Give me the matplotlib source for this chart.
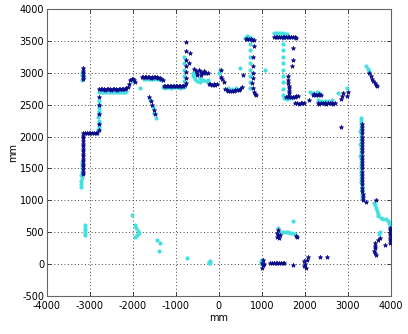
import matplotlib
matplotlib.use("Agg")
import matplotlib.pyplot as plt

# ---- data (mm) ----
navy_x = [-3170, -3160, -3160, -3150, -3160,
          -3150, -3160, -3150, -3170, -3150, -3160, -3170, -3150, -3160, -3170, -3160, -3170, -3160, -3170, -3170, -3160, -3170,
          -3110, -3070, -3030, -2990, -2950, -2910, -2870, -2830,
          -2790, -2790, -2790, -2790, -2790,
          -2780, -2745, -2710, -2675, -2640, -2605, -2570, -2535, -2500, -2465, -2430, -2395, -2360, -2325, -2290, -2255, -2220, -2185, -2150, -2120,
          -2090, -2060, -2030, -2000, -1970, -1940,
          -1790, -1755, -1720, -1685, -1650, -1615, -1580, -1545, -1510, -1475, -1440, -1405, -1370, -1335, -1300,
          -1620, -1590, -1550, -1510, -1480,
          -1280, -1245, -1210, -1175, -1140, -1105, -1070, -1035, -1000, -965, -930, -895, -860, -825, -790,
          -770, -770, -770, -770, -770, -770, -770, -680, -690,
          -580, -540, -500, -460, -420, -380, -340, -300, -260, -500, -420,
          -240, -200, -160, -120, -80, -40,
          40, 60, 80, 110,
          150, 180, 220, 260, 300, 340, 380, 420, 460, 500, 540,
          560,
          620, 660, 700, 740, 780, 820,
          810, 800, 790, 790, 790, 780, 790, 810, 840, 870,
          1280, 1320, 1360, 1400, 1440, 1480, 1520, 1560, 1600, 1640, 1680, 1720, 1760, 1800,
          1720, 1730, 1710,
          1600, 1610, 1610, 1620, 1630, 1620, 1630,
          1560, 1600, 1640, 1680, 1720, 1760, 1800, 1840,
          1780, 1820, 1860, 1900, 1940, 1980, 2100,
          2180, 2220, 2260, 2300, 2340, 2380,
          2300, 2340, 2380, 2420, 2460, 2500, 2540, 2580, 2620, 2660, 2700,
          2840, 2860, 2880, 3000, 2990,
          2840,
          3500, 3530, 3560, 3590, 3620, 3650, 3670,
          3330, 3320, 3330, 3340, 3330, 3320, 3330, 3340, 3330, 3320, 3330, 3340, 3330, 3320, 3330, 3340, 3330, 3330, 3340, 3330, 3340, 3340, 3350, 3350, 3360,
          3420, 3650,
          3980, 3980, 3980, 3970, 3980, 3980, 3970, 3860,
          3740, 3700, 3640, 3620, 3640, 3610, 3630, 3650,
          1370, 1350, 1380, 1360, 1390, 1410, 1820, 1790,
          1020, 1000, 1030, 1010, 1050, 1200, 1240, 1280, 1320, 1360, 1400, 1440, 1480, 1520, 1720,
          1990, 2010, 1980, 2020, 2050, 2070, 2350, 2510]
navy_y = [3070, 3030, 2990, 2950, 2910,
          2050, 2010, 1970, 1930, 1890, 1850, 1810, 1770, 1730, 1690, 1650, 1610, 1570, 1530, 1490, 1450, 1410,
          2060, 2055, 2050, 2055, 2050, 2055, 2050, 2060,
          2100, 2200, 2350, 2500, 2620,
          2750, 2745, 2740, 2740, 2735, 2740, 2745, 2740, 2735, 2740, 2745, 2740, 2735, 2740, 2745, 2750, 2750, 2745, 2760, 2780,
          2830, 2880, 2910, 2900, 2880, 2860,
          2930, 2935, 2930, 2930, 2935, 2930, 2925, 2930, 2930, 2935, 2930, 2925, 2920, 2900, 2880,
          2620, 2560, 2490, 2420, 2350,
          2790, 2785, 2790, 2790, 2785, 2790, 2790, 2795, 2790, 2785, 2790, 2790, 2795, 2800, 2810,
          2840, 2915, 3010, 3100, 3200, 3340, 3480, 3310, 3150,
          3060, 3020, 3000, 3040, 3010, 2990, 3020, 3000, 2990, 2970, 2960,
          2830, 2820, 2815, 2820, 2815, 2820,
          3050, 2930, 2900, 2850,
          2750, 2730, 2720, 2720, 2715, 2720, 2730, 2730, 2725, 2740, 2770,
          2960,
          3530, 3535, 3530, 3525, 3520, 3510,
          3420, 3250, 3100, 3000, 2920, 2840, 2760, 2700, 2670, 2650,
          3560, 3565, 3560, 3555, 3560, 3560, 3555, 3560, 3560, 3555, 3560, 3560, 3555, 3550,
          3390, 3200, 3100,
          2950, 2880, 2840, 2800, 2760, 2720, 2680,
          2620, 2630, 2620, 2615, 2620, 2625, 2630, 2640,
          2530, 2520, 2515, 2520, 2525, 2520, 2570,
          2650, 2660, 2655, 2650, 2660, 2650,
          2520, 2515, 2520, 2525, 2520, 2515, 2520, 2525, 2520, 2515, 2520,
          2590, 2640, 2690, 2700, 2640,
          2150,
          2990, 2950, 2910, 2870, 2840, 2810, 2790,
          2200, 2150, 2100, 2050, 2000, 1950, 1900, 1850, 1800, 1750, 1700, 1650, 1600, 1550, 1500, 1450, 1400, 1350, 1300, 1250, 1200, 1150, 1100, 1050, 1000,
          980, 1000,
          570, 530, 490, 450, 410, 370, 330, 300,
          410, 370, 330, 290, 250, 210, 170, 140,
          530, 490, 460, 420, 410, 450, 420, 440,
          60, 20, -20, -60, 0, 20, 20, 15, 20, 20, 15, 20, 15, 20, -15,
          40, 0, -30, -60, 70, 110, 110, 110]

cyan_x = [-3180, -3190, -3170, -3180, -3140,
          -3180, -3190, -3180, -3190, -3200, -3190, -3200, -3200, -3210,
          -3120, -3110, -3120, -3110, -3120,
          -2810, -2800, -2790, -2800, -2810, -2790, -2800, -2790, -2800, -2790,
          -2780, -2735, -2690, -2645, -2600, -2555, -2510, -2465, -2420, -2375, -2330, -2285, -2240, -2195, -2150,
          -2050, -1990, -1840,
          -1750, -1700, -1650, -1600, -1550, -1500, -1450, -1400, -1350,
          -1600, -1540, -1500, -1470,
          -1300, -1255, -1210, -1165, -1120, -1075, -1030, -985, -940, -895, -850, -805,
          -820, -820, -820, -820, -820,
          -600, -550, -450, -400, -500, -250, -300, -605, -372, -442,
          0, 20, 480, 1070,
          210, 300, 400,
          600, 650, 700, 750,
          720, 720, 720, 720, 720, 720, 720, 720,
          1280, 1330, 1380, 1430, 1480, 1530, 1580,
          1480, 1480, 1480, 1480, 1480, 1490, 1480, 1490, 1480, 1490,
          1520, 1580, 1640, 1700,
          2120, 2200, 2280, 2340,
          2300, 2380, 2460, 2540, 2620,
          2760, 2990,
          3430, 3460, 3480,
          3300, 3300, 3310, 3300, 3290, 3300, 3310, 3300, 3290, 3300, 3310, 3300, 3290, 3300, 3310, 3300, 3300, 3310, 3300, 3310, 3310, 3320, 3320, 3330, 3330, 3340,
          3600, 3630, 3650, 3670, 3690, 3710, 3760, 3820, 3880, 3930, 3960, 3980,
          3740, 3720,
          1380, 1450, 1500, 1550, 1600, 1650, 1700, 1720, 1780,
          -2020, -1950, -1920, -1880, -1860, -1900, -1950, -1440, -1380, -1400, -750, -220, -200, -240, -210,
          1000, 980, 990, 1030]
cyan_y = [3000, 2960, 2920, 2880, 2940,
          1600, 1550, 1500, 1450, 1400, 1350, 1300, 1250, 1210,
          610, 570, 530, 490, 460,
          2100, 2150, 2200, 2250, 2300, 2350, 2400, 2450, 2500, 2550,
          2700, 2705, 2700, 2695, 2700, 2705, 2700, 2700, 2695, 2700, 2705, 2700, 2700, 2705, 2720,
          2880, 2870, 2760,
          2900, 2905, 2900, 2900, 2895, 2900, 2905, 2900, 2890,
          2580, 2460, 2370, 2290,
          2770, 2765, 2770, 2770, 2765, 2770, 2770, 2775, 2770, 2765, 2770, 2780,
          2870, 2950, 3050, 3150, 3250,
          2950, 2900, 2920, 2880, 2870, 2880, 2870, 3000, 2880, 2850,
          3000, 3050, 3070, 3050,
          2760, 2750, 2760,
          3550, 3570, 3560, 3550,
          3450, 3350, 3250, 3150, 3050, 2950, 2850, 2760,
          3620, 3630, 3620, 3625, 3620, 3615, 3610,
          3550, 3450, 3350, 3250, 3150, 3050, 2950, 2850, 2750, 2650,
          2600, 2590, 2600, 2610,
          2700, 2690, 2700, 2690,
          2570, 2560, 2560, 2560, 2570,
          2680, 2760,
          3100, 3060, 3020,
          2290, 2240, 2190, 2140, 2090, 2040, 1990, 1940, 1890, 1840, 1790, 1740, 1690, 1640, 1590, 1540, 1490, 1440, 1390, 1340, 1290, 1240, 1190, 1140, 1090, 1040,
          960, 920, 880, 830, 790, 750, 720, 710, 700, 680, 640, 600,
          500, 470,
          560, 500, 500, 500, 500, 490, 480, 670, 470,
          770, 610, 560, 520, 480, 450, 430, 380, 330, 200, 95, 20, 10, 30, 40,
          70, 40, 10, -20]

xticks = [-4000, -3000, -2000, -1000, 0, 1000, 2000, 3000, 4000]
yticks = [-500, 0, 500, 1000, 1500, 2000, 2500, 3000, 3500, 4000]

fig = plt.figure(figsize=(4.08, 3.34), dpi=100)
ax = fig.add_axes([0.115, 0.114, 0.843, 0.859])

ax.plot(cyan_x, cyan_y, linestyle='none', marker='o', markersize=3.0,
        color='#45dfe0', markeredgewidth=0, zorder=2)
ax.plot(navy_x, navy_y, linestyle='none', marker='*', markersize=3.2,
        color='#0c0c8a', markeredgewidth=0.5, zorder=3)

ax.set_xlim(-4000, 4000)
ax.set_ylim(-500, 4000)
ax.set_xticks(xticks)
ax.set_yticks(yticks)
ax.set_xticklabels([str(t) for t in xticks])
ax.set_yticklabels([str(t) for t in yticks])
ax.grid(True, linestyle=(0, (1, 2.5)), color='#444444', linewidth=0.7)
ax.tick_params(direction='in', length=3, width=0.5, labelsize=7, top=True, right=True)
ax.tick_params(axis='x', pad=4)
ax.tick_params(axis='y', pad=2)
for s in ax.spines.values():
    s.set_linewidth(0.8)
    s.set_color('#666666')
ax.set_xlabel('mm', fontsize=7, labelpad=1)
ax.set_ylabel('mm', fontsize=7, labelpad=1)

fig.savefig('out.png', dpi=100)
